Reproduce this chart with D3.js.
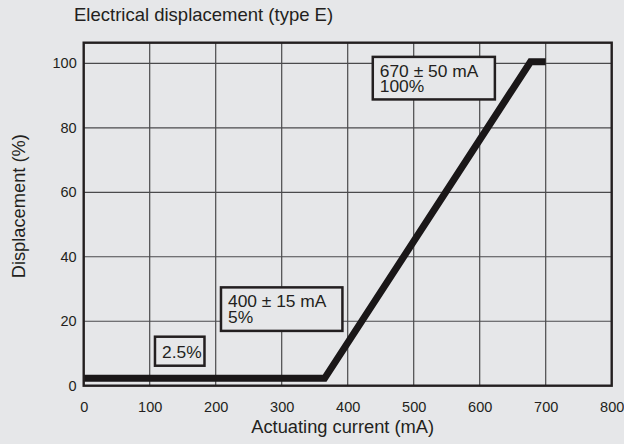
<!DOCTYPE html>
<html>
<head>
<meta charset="utf-8">
<script src="https://cdn.jsdelivr.net/npm/d3@7"></script>
<style>
  body { margin: 0; background: #e6e7e9; }
  text { font-family: "Liberation Sans", Arial, Helvetica, sans-serif; fill: #231f20; }
</style>
</head>
<body>
<div id="chart"></div>
<script>
// Curve: actuating current (mA) vs displacement (%)
const currentMA = [0, 365, 677, 700];
const displacementPct = [2.3, 2.3, 100.5, 100.5];

const xTicks = [0, 100, 200, 300, 400, 500, 600, 700, 800];
const yTicks = [0, 20, 40, 60, 80, 100];

// Annotation labels and the box extents in data units
const noteLines = [["670 \u00b1 50 mA", "100%"], ["400 \u00b1 15 mA", "5%"], ["2.5%"]];
const noteX = [[438, 623], [208, 392], [108, 183]];
const noteY = [[102, 88.8], [30.5, 17], [15.2, 6.2]];

const width = 624, height = 444;
const margin = {top: 42.7, right: 12.3, bottom: 58.3, left: 83.7};
const innerW = width - margin.left - margin.right;
const innerH = height - margin.top - margin.bottom;

const svg = d3.select('#chart').append('svg')
  .attr('width', width)
  .attr('height', height);

svg.append('rect')
  .attr('width', width)
  .attr('height', height)
  .attr('fill', '#e6e7e9');

const g = svg.append('g')
  .attr('transform', `translate(${margin.left},${margin.top})`);

const x = d3.scaleLinear().domain([0, 800]).range([0, innerW]);
const y = d3.scaleLinear().domain([0, 106.4]).range([innerH, 0]);

// grid
g.append('g')
  .selectAll('line')
  .data(xTicks.slice(1, -1))
  .join('line')
  .attr('x1', d => x(d)).attr('x2', d => x(d))
  .attr('y1', 0).attr('y2', innerH)
  .attr('stroke', '#4a4a4c')
  .attr('stroke-width', 1.2);

g.append('g')
  .selectAll('line')
  .data(yTicks.slice(1))
  .join('line')
  .attr('x1', 0).attr('x2', innerW)
  .attr('y1', d => y(d)).attr('y2', d => y(d))
  .attr('stroke', '#4a4a4c')
  .attr('stroke-width', 1.2);

// axes (labels only, frame drawn separately)
const xAxis = d3.axisBottom(x).tickValues(xTicks).tickSize(0).tickPadding(16);
const yAxis = d3.axisLeft(y).tickValues(yTicks).tickSize(0).tickPadding(7);

g.append('g')
  .attr('transform', `translate(0,${innerH})`)
  .call(xAxis)
  .call(a => a.select('.domain').remove())
  .selectAll('text')
  .attr('font-size', 14.5)
  .attr('font-family', null)
  .attr('fill', '#231f20');

g.append('g')
  .call(yAxis)
  .call(a => a.select('.domain').remove())
  .selectAll('text')
  .attr('font-size', 14.5)
  .attr('font-family', null)
  .attr('fill', '#231f20');

// the curve
const line = d3.line()
  .x((d, i) => x(currentMA[i]))
  .y(d => y(d));

g.append('path')
  .datum(displacementPct)
  .attr('d', line)
  .attr('fill', 'none')
  .attr('stroke', '#1a1718')
  .attr('stroke-width', 7)
  .attr('stroke-linejoin', 'miter');

// frame
g.append('rect')
  .attr('width', innerW)
  .attr('height', innerH)
  .attr('fill', 'none')
  .attr('stroke', '#231f20')
  .attr('stroke-width', 2.4);

// annotation boxes
noteLines.forEach((lines, i) => {
  const bx = x(noteX[i][0]), bw = x(noteX[i][1]) - bx;
  const by = y(noteY[i][0]), bh = y(noteY[i][1]) - by;
  g.append('rect')
    .attr('x', bx).attr('y', by)
    .attr('width', bw).attr('height', bh)
    .attr('fill', '#e6e7e9')
    .attr('stroke', '#231f20')
    .attr('stroke-width', 2.5);
  const t = g.append('text')
    .attr('x', bx + 7)
    .attr('y', by + (lines.length > 1 ? 20 : 21.6))
    .attr('font-size', 17.4);
  lines.forEach((s, j) => {
    t.append('tspan')
      .attr('x', bx + 7)
      .attr('dy', j === 0 ? 0 : 15.3)
      .text(s);
  });
});

// titles
svg.append('text')
  .attr('x', 74)
  .attr('y', 21)
  .attr('font-size', 18.5)
  .text('Electrical displacement (type E)');

svg.append('text')
  .attr('x', margin.left + innerW / 2 - 5)
  .attr('y', 433)
  .attr('text-anchor', 'middle')
  .attr('font-size', 18.3)
  .text('Actuating current (mA)');

svg.append('text')
  .attr('transform', `translate(25,${margin.top + innerH / 2 - 8}) rotate(-90)`)
  .attr('text-anchor', 'middle')
  .attr('font-size', 18.3)
  .text('Displacement (%)');
</script>
</body>
</html>
